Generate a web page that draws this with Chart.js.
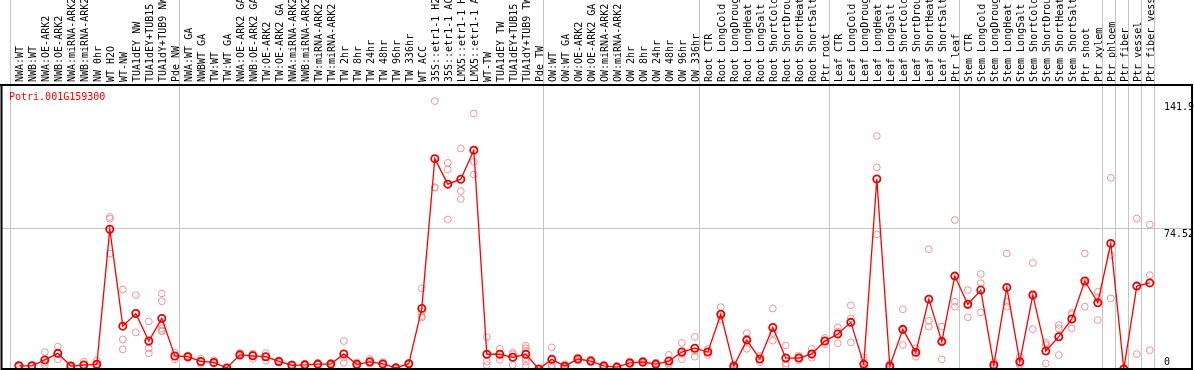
<!DOCTYPE html>
<html>
<head>
<meta charset="utf-8">
<script src="https://cdn.jsdelivr.net/npm/chart.js@4.4.1/dist/chart.umd.min.js"></script>
<style>
  html, body { margin: 0; padding: 0; background: #fff; }
  #wrap { width: 1194px; height: 370px; }
</style>
</head>
<body>
<div id="wrap"><canvas id="expr" width="1194" height="370"></canvas></div>
<script>
const geneName = 'Potri.001G159300';

const labels = [
  'NWA:WT', 'NWB:WT', 'NWA:OE-ARK2', 'NWB:OE-ARK2', 'NWA:miRNA-ARK2', 'NWB:miRNA-ARK2',
  'NW 0hr', 'WT H2O', 'WT-NW', 'TUA1dEY NW', 'TUA1dEY+TUB15', 'TUA1dY+TUB9 NW', 'Pde NW',
  'NWA:WT GA', 'NWBWT GA', 'TW:WT', 'TW:WT GA', 'NWA:OE-ARK2 GA', 'NWB:OE-ARK2 GA',
  'TW:OE-ARK2', 'TW:OE-ARK2 GA', 'NWA:miRNA-ARK2', 'NWB:miRNA-ARK2', 'TW:miRNA-ARK2',
  'TW:miRNA-ARK2', 'TW 2hr', 'TW 8hr', 'TW 24hr', 'TW 48hr', 'TW 96hr', 'TW 336hr',
  'WT ACC', '35S::etr1-1 H2', '35S::etr1-1 AC', 'LMX5::etr1-1 H', 'LMX5::etr1-1 A',
  'WT-TW', 'TUA1dEY TW', 'TUA1dEY+TUB15', 'TUA1dY+TUB9 TW', 'Pde TW',
  'OW:WT', 'OW:WT GA', 'OW:OE-ARK2', 'OW:OE-ARK2 GA', 'OW:miRNA-ARK2', 'OW:miRNA-ARK2',
  'OW 2hr', 'OW 8hr', 'OW 24hr', 'OW 48hr', 'OW 96hr', 'OW 336hr',
  'Root CTR', 'Root LongCold', 'Root LongDroug', 'Root LongHeat', 'Root LongSalt',
  'Root ShortCold', 'Root ShortDrou', 'Root ShortHeat', 'Root ShortSalt', 'Ptr root',
  'Leaf CTR', 'Leaf LongCold', 'Leaf LongDroug', 'Leaf LongHeat', 'Leaf LongSalt',
  'Leaf ShortCold', 'Leaf ShortDrou', 'Leaf ShortHeat', 'Leaf ShortSalt', 'Ptr leaf',
  'Stem CTR', 'Stem LongCold', 'Stem LongDroug', 'Stem LongHeat', 'Stem LongSalt',
  'Stem ShortCold', 'Stem ShortDrou', 'Stem ShortHeat', 'Stem ShortSalt', 'Ptr shoot',
  'Ptr xylem', 'Ptr phloem', 'Ptr fiber', 'Ptr vessel', 'Ptr fiber vess'
];

// mean expression per sample
const means = [
  1.7, 1.7, 4.8, 8.3, 1.6, 2.1, 2.5, 74.0, 22.7, 29.4, 14.8, 26.8, 6.9,
  6.5, 4.0, 3.5, 0.5, 7.5, 7.0, 6.5, 4.0, 2.0, 2.2, 2.6, 2.6, 8.0, 2.5, 3.8, 2.7, 0.6, 2.8,
  32.1, 111.4, 97.9, 100.5, 115.9, 7.8, 7.8, 6.2, 7.8, 0.0,
  5.1, 1.5, 5.3, 4.2, 1.6, 1.0, 3.2, 3.7, 2.6, 4.2, 9.0, 11.0,
  9.0, 29.0, 1.5, 15.3, 5.3, 22.0, 5.8, 5.8, 8.0, 14.8,
  18.5, 24.7, 2.6, 100.6, 1.6, 21.0, 8.8, 37.0, 14.5, 49.2,
  34.3, 41.8, 2.1, 43.2, 3.9, 39.1, 9.5, 17.1, 26.5, 46.6,
  35.1, 66.5, 0.0, 43.9, 45.6
];

// individual replicates per sample
const replicates = [
  [1.2, 1.8, 2.1], [1.4, 1.7, 2.0], [9.0, 3.3, 2.1], [11.8, 8.3, 5.1], [1.2, 1.6, 2.0],
  [3.9, 2.1, 0.4], [4.5, 2.0, 1.0], [80.5, 79.6, 61.1], [42.1, 15.7, 10.4], [39.1, 29.7, 19.4],
  [25.2, 10.9, 8.3], [40.0, 35.9, 23.3, 21.5, 20.2, 20.0], [8.6, 6.9, 5.1],
  [7.2, 6.5, 5.8], [5.5, 3.8, 2.7], [4.6, 3.2, 2.7], [0.8, 0.4, 0.3], [8.5, 7.3, 6.7],
  [8.2, 7.5, 5.3], [8.5, 6.5, 4.5], [4.6, 4.0, 3.4], [2.5, 1.8, 1.7], [2.8, 2.0, 1.8],
  [3.2, 2.4, 2.2], [3.2, 2.4, 2.2], [14.8, 6.0, 3.2], [3.5, 2.2, 1.8], [5.3, 3.2, 2.9],
  [3.7, 2.3, 2.1], [0.9, 0.5, 0.4], [3.2, 2.6, 2.6],
  [42.7, 30.4, 28.0, 27.3], [141.9, 96.3, 96.0], [109.2, 105.7, 79.2], [116.8, 94.2, 90.0],
  [135.3, 109.7, 103.0], [16.9, 3.9, 2.1], [10.7, 7.9, 4.8], [8.7, 7.8, 2.1],
  [12.3, 11.0, 9.7, 5.7, 3.9, 1.7], [0.3, 0.0, 0.0],
  [11.5, 2.1, 1.0], [2.5, 1.2, 0.8], [6.2, 5.3, 4.4], [5.0, 4.2, 3.4], [2.3, 1.5, 1.0],
  [1.6, 0.8, 0.6], [4.0, 3.0, 2.6], [4.5, 3.6, 3.0], [3.3, 2.5, 2.0], [7.5, 3.0, 2.1],
  [13.8, 8.0, 5.2], [17.0, 9.5, 6.5],
  [10.6, 9.0, 7.4], [32.8, 28.0, 26.2], [2.5, 1.2, 0.8], [19.0, 16.2, 10.7], [7.0, 5.3, 3.6],
  [32.0, 19.0, 15.0], [12.5, 3.0, 1.9], [7.0, 5.8, 4.6], [10.6, 7.4, 6.0], [16.5, 14.8, 13.1],
  [22.1, 19.8, 13.6], [33.7, 26.8, 14.1], [6.2, 1.0, 0.6], [123.4, 106.8, 71.3], [2.8, 1.2, 0.8],
  [31.6, 20.6, 12.7], [11.0, 9.0, 6.5], [63.4, 25.6, 22.4], [22.4, 15.3, 5.1], [78.9, 35.6, 33.0],
  [41.8, 33.7, 27.4], [50.3, 45.4, 30.0], [3.5, 1.8, 1.0], [61.2, 35.6, 33.0], [6.5, 3.0, 2.2],
  [56.2, 40.0, 21.1], [13.9, 12.7, 3.0], [23.3, 21.5, 7.4], [29.8, 29.0, 21.5], [61.2, 45.6, 33.0],
  [40.9, 38.0, 25.9], [101.2, 60.3, 37.4], [0.2, 0.0, 0.0], [79.7, 7.9], [76.5, 49.7, 10.0]
];

const yTicks = [0, 74.52, 141.9];
// sample index where each grey group separator sits
const groupEdges = [0, 13, 41, 53, 63, 73, 84, 85, 86, 87, 88];

const monoFont = '"DejaVu Sans Mono", "Liberation Mono", monospace';

const meanPoints = means.map((v, i) => ({ x: i, y: v }));
const repPoints = [];
replicates.forEach((reps, i) => reps.forEach(r => repPoints.push({ x: i, y: r })));

const frame = {
  id: 'frame',
  beforeDatasetsDraw(chart) {
    const { ctx, chartArea: a, scales: { x } } = chart;
    ctx.save();
    ctx.strokeStyle = '#c4c4c4';
    ctx.lineWidth = 1;
    groupEdges.forEach(b => {
      const px = Math.round(x.getPixelForValue(b - 0.5)) - 1.5;
      ctx.beginPath();
      ctx.moveTo(px, 0);
      ctx.lineTo(px, a.bottom);
      ctx.stroke();
    });
    ctx.restore();
  },
  afterDraw(chart) {
    const { ctx, chartArea: a, scales: { y } } = chart;
    ctx.save();
    // box round the plot
    ctx.strokeStyle = '#000';
    ctx.lineWidth = 2;
    ctx.beginPath();
    ctx.moveTo(0, a.top);
    ctx.lineTo(a.right, a.top);
    ctx.stroke();
    ctx.strokeRect(a.left - 0.5, a.top, a.right - a.left + 0.5, a.bottom - a.top);

    ctx.font = '10px ' + monoFont;
    ctx.fillStyle = '#ff0000';
    ctx.textBaseline = 'middle';
    ctx.textAlign = 'left';
    ctx.fillText(geneName, 9, a.top + 12);

    ctx.fillStyle = '#000';
    yTicks.forEach(v => {
      const py = y.getPixelForValue(v);
      if (v === 0) {
        ctx.textBaseline = 'bottom';
        ctx.fillText('0', a.right - 28, py - 2);
      } else {
        ctx.textBaseline = 'top';
        ctx.fillText(String(v), a.right - 28, py + 1);
      }
    });
    ctx.restore();
  }
};

new Chart(document.getElementById('expr').getContext('2d'), {
  type: 'scatter',
  data: {
    datasets: [{
      type: 'line',
      label: 'mean',
      data: meanPoints,
      borderColor: '#ff0000',
      borderWidth: 1.3,
      pointRadius: 3.6,
      pointBorderWidth: 1.8,
      pointBorderColor: '#ee0000',
      pointBackgroundColor: 'rgba(0,0,0,0)',
      tension: 0,
      order: 1
    }, {
      label: 'replicates',
      data: repPoints,
      showLine: false,
      pointRadius: 3.4,
      pointBorderWidth: 1,
      pointBorderColor: '#f09494',
      pointBackgroundColor: 'rgba(0,0,0,0)',
      order: 2
    }]
  },
  options: {
    responsive: false,
    animation: false,
    devicePixelRatio: 1,
    layout: { autoPadding: false, padding: { left: 2, right: 2, top: 0, bottom: 1 } },
    plugins: { legend: { display: false }, tooltip: { enabled: false } },
    scales: {
      x: {
        type: 'linear',
        position: 'top',
        min: -1.292,
        max: 90.246,
        afterBuildTicks: s => { s.ticks = labels.map((_, i) => ({ value: i })); },
        afterFit: s => { s.height = 85; s.paddingLeft = 0; s.paddingRight = 0; },
        grid: { display: false, drawTicks: false },
        border: { display: false },
        ticks: {
          autoSkip: false,
          minRotation: 90,
          maxRotation: 90,
          padding: 3,
          labelOffset: 13.5,
          color: '#000',
          font: { family: monoFont, size: 10 },
          callback: v => labels[v]
        }
      },
      y: {
        type: 'linear',
        position: 'left',
        min: 0,
        max: 150.4,
        afterBuildTicks: s => { s.ticks = yTicks.map(v => ({ value: v })); },
        afterFit: s => { s.width = 0; s.paddingTop = 0; s.paddingBottom = 0; },
        grid: {
          drawTicks: false,
          color: c => (c.tick && c.tick.value === 74.52 ? '#c4c4c4' : 'rgba(0,0,0,0)')
        },
        border: { display: false },
        ticks: { display: false }
      }
    }
  },
  plugins: [frame]
});
</script>
</body>
</html>
